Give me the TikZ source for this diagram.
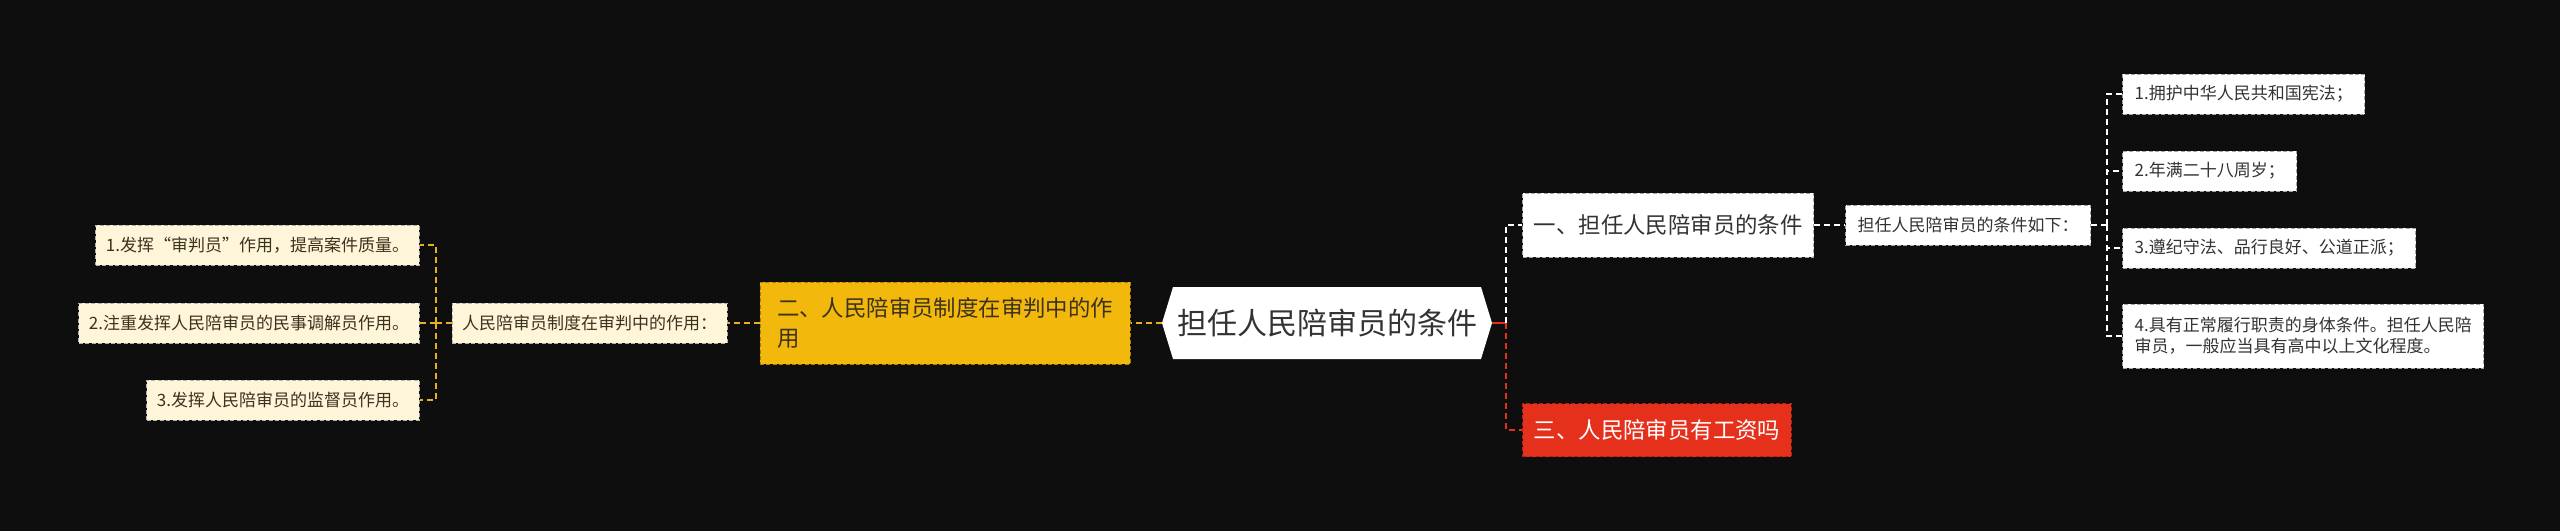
\documentclass[tikz,border=0pt]{standalone}
\usepackage{fontspec}
\setmainfont{Noto Sans CJK SC}
\usepackage{tikz}
\usetikzlibrary{positioning, shapes.symbols}

\definecolor{bgdark}{HTML}{0E0E0E}
\definecolor{goldfill}{HTML}{F2B80B}
\definecolor{goldline}{HTML}{E8B020}
\definecolor{redfill}{HTML}{E5301C}
\definecolor{creamfill}{HTML}{FFF5D8}
\definecolor{inkgray}{HTML}{333333}
\definecolor{inkbrown}{HTML}{3C3220}

\begin{document}
\begin{tikzpicture}[
  x=1pt, y=1pt,
  node distance=15pt,
  rootbox/.style={signal, signal to=east and west, signal pointer angle=146,
              fill=white, text=inkgray, minimum width=165pt, minimum height=36pt,
              inner xsep=1pt, font=\fontsize{15pt}{18pt}\selectfont},
  cardbox/.style={rectangle, dash pattern={on 2pt off 1.2pt}, line width=0.5pt,
              inner xsep=5.5pt, inner ysep=2pt, align=left},
  branchbox/.style={cardbox, fill=white, draw=gray!70, text=inkgray,
              minimum height=32pt, font=\fontsize{11.2pt}{15pt}\selectfont},
  goldbox/.style={cardbox, fill=goldfill, draw=goldfill!70!black, text=inkbrown,
              minimum height=41pt, minimum width=185pt, inner xsep=6pt,
              font=\fontsize{11.2pt}{15pt}\selectfont},
  redbox/.style={cardbox, fill=redfill, draw=redfill!75!black, text=white,
              minimum height=26.5pt, font=\fontsize{11.2pt}{15pt}\selectfont},
  leafbox/.style={cardbox, fill=white, draw=gray!70, text=inkgray,
              minimum height=20pt, inner xsep=6pt, font=\fontsize{8.5pt}{10.3pt}\selectfont},
  creambox/.style={cardbox, fill=creamfill, draw=gray!60, text=inkbrown,
              minimum height=20pt, inner xsep=5pt, font=\fontsize{8.5pt}{10.3pt}\selectfont},
  link/.style={line width=1pt, dash pattern={on 3pt off 2pt}},
  whitelink/.style={link, draw=white},
  redlink/.style={link, draw=redfill},
  goldlink/.style={link, draw=goldline}
]
\fill[bgdark] (0,0) rectangle (1280,-265.5);
\useasboundingbox (0,0) rectangle (1280,-265.5);

% centre
\node[rootbox] (root) at (663.5,-161.5) {担任人民陪审员的条件};

% right side
\node[branchbox, right=15pt of root, yshift=49pt] (b1) {一、担任人民陪审员的条件};
\node[redbox, right=15pt of root, yshift=-53.5pt] (b3) {三、人民陪审员有工资吗};
\node[leafbox, right=15.5pt of b1] (s1) {担任人民陪审员的条件如下：};

\node[leafbox, right=15.5pt of s1, yshift=65.5pt] (c1) {1.拥护中华人民共和国宪法；};
\node[leafbox, right=15.5pt of s1, yshift=27pt] (c2) {2.年满二十八周岁；};
\node[leafbox, right=15.5pt of s1, yshift=-11.5pt] (c3) {3.遵纪守法、品行良好、公道正派；};
\node[leafbox, right=15.5pt of s1, yshift=-55.5pt, minimum height=32pt] (c4)
  {4.具有正常履行职责的身体条件。担任人民陪\\审员，一般应当具有高中以上文化程度。};

% left side
\node[goldbox, left=15.5pt of root] (b2) {二、人民陪审员制度在审判中的作\\用};
\node[creambox, left=16pt of b2] (s2) {人民陪审员制度在审判中的作用：};

\node[creambox, left=16pt of s2, yshift=39pt] (d1) {1.发挥“审判员”作用，提高案件质量。};
\node[creambox, left=16pt of s2] (d2) {2.注重发挥人民陪审员的民事调解员作用。};
\node[creambox, left=16pt of s2, yshift=-38.5pt] (d3) {3.发挥人民陪审员的监督员作用。};

% joints
\coordinate[right=7pt of root] (rjoint);
\coordinate[right=8pt of s1] (cjoint);
\coordinate[left=8pt of s2] (djoint);

% connectors
\draw[redlink, solid] (root.east) -- (rjoint);
\draw[whitelink] (rjoint) |- (b1.west);
\draw[redlink] (rjoint) |- (b3.west);
\draw[whitelink] (b1.east) -- (s1.west);
\draw[whitelink] (s1.east) -- (cjoint);
\foreach \n in {c1,c2,c3,c4}
  \draw[whitelink] (cjoint) |- (\n.west);

\draw[goldlink] (root.west) -- (b2.east);
\draw[goldlink] (b2.west) -- (s2.east);
\draw[goldlink] (s2.west) -- (djoint);
\foreach \n in {d1,d2,d3}
  \draw[goldlink] (djoint) |- (\n.east);

\end{tikzpicture}
\end{document}
